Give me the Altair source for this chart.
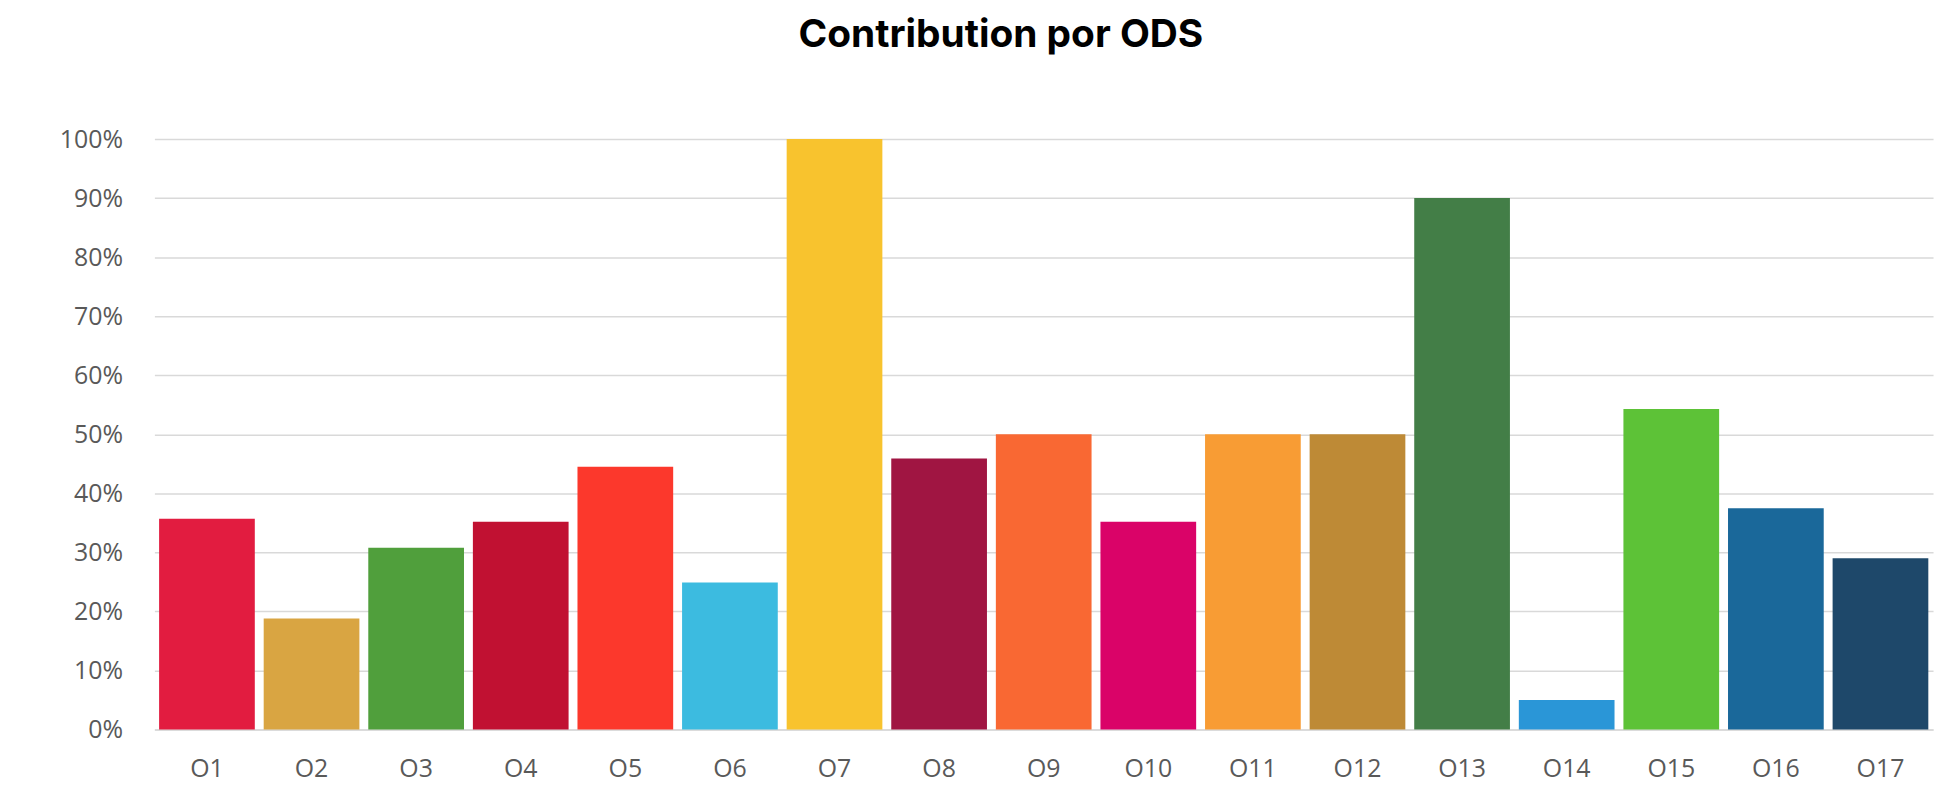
import altair as alt
import pandas as pd

categories = ["O1", "O2", "O3", "O4", "O5", "O6", "O7", "O8", "O9", "O10",
              "O11", "O12", "O13", "O14", "O15", "O16", "O17"]
values = [0.357, 0.188, 0.308, 0.352, 0.445, 0.249, 1.0, 0.459, 0.50, 0.352,
          0.50, 0.50, 0.90, 0.05, 0.543, 0.375, 0.29]
colors = ["#E21C40", "#D9A542", "#509F3C", "#C11132", "#FC382C", "#3CBBE0",
          "#F8C32E", "#A01542", "#F96833", "#DA0368", "#F89C34", "#BE8A36",
          "#437E47", "#2A96D7", "#5DC237", "#1A689A", "#1E486A"]
y_ticks = [0, 0.1, 0.2, 0.3, 0.4, 0.5, 0.6, 0.7, 0.8, 0.9, 1.0]

df = pd.DataFrame({"ods": categories, "valor": values})

chart = alt.Chart(df).mark_bar().encode(
    x=alt.X("ods:N", sort=categories,
            scale=alt.Scale(paddingInner=0.085, paddingOuter=0.045),
            axis=alt.Axis(title=None, labelAngle=0, ticks=False, domain=True,
                          domainColor="#d9d9d9", domainWidth=1.5,
                          labelFont="Open Sans", labelFontSize=25,
                          labelColor="#595959", labelPadding=27, grid=False)),
    y=alt.Y("valor:Q", scale=alt.Scale(domain=[0, 1], nice=False),
            axis=alt.Axis(title=None, format=".0%", values=y_ticks,
                          ticks=False, domain=False, grid=True,
                          gridColor="#d9d9d9", gridWidth=1.5,
                          labelFont="Open Sans", labelFontSize=25,
                          labelColor="#595959", labelPadding=32)),
    color=alt.Color("ods:N", sort=categories,
                    scale=alt.Scale(domain=categories, range=colors),
                    legend=None),
).properties(
    width=1786,
    height=593,
    background="#ffffff",
    title=alt.Title("Contribution por ODS", font="Inter", fontSize=39,
                    fontWeight="bold", color="#000000", anchor="middle",
                    frame="group", baseline="alphabetic", offset=41, dx=-43),
    autosize=alt.AutoSizeParams(type="none"),
    padding={"left": 147, "top": 130, "right": 5, "bottom": 54},
).configure_view(stroke=None)

chart.save("out.html", embed_options={"renderer": "svg", "actions": False})
